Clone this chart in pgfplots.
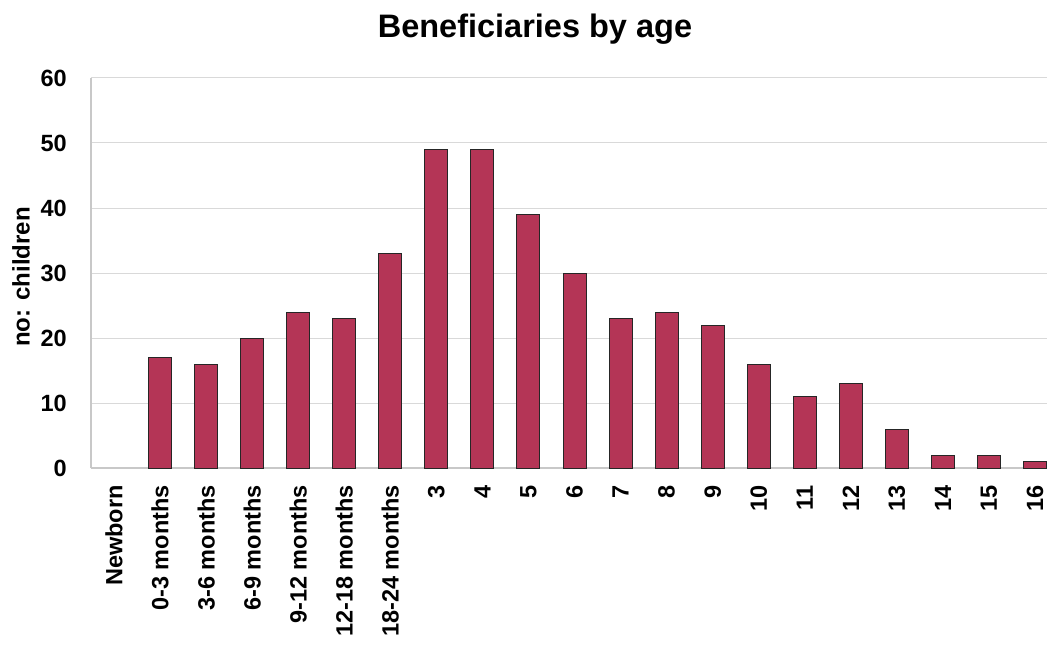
\documentclass[border=0pt]{standalone}
\usepackage{pgfplots}
\pgfplotsset{compat=1.18}
\usepackage{fontspec}
\setmainfont{Liberation Sans}
\definecolor{barred}{RGB}{180,53,86}
\definecolor{gridgray}{RGB}{217,217,217}
\definecolor{axisgray}{RGB}{200,200,200}
\begin{document}
\begin{tikzpicture}
\begin{axis}[
  at={(0pt,0pt)}, anchor=south west,
  scale only axis,
  width=956pt, height=390pt,
  ybar, bar width=23pt,
  xmin=-0.5, xmax=20.26,
  ymin=0, ymax=60,
  ytick={0,10,...,60},
  xtick={0,...,20},
  xticklabels={Newborn,0-3 months,3-6 months,6-9 months,9-12 months,12-18 months,18-24 months,3,4,5,6,7,8,9,10,11,12,13,14,15,16},
  major tick length=0pt,
  axis x line*=bottom, axis y line*=left,
  axis line style={axisgray, line width=1.2pt, -},
  ymajorgrids, grid style={gridgray, line width=1pt},
  /pgf/number format/assume math mode=true,
  tick label style={font=\fontsize{23.5}{26}\selectfont\bfseries, inner sep=0pt},
  yticklabel style={anchor=east, xshift=-24pt},
  xticklabel style={yshift=-17pt, rotate=90, anchor=east},
  ylabel={no: children},
  ylabel style={at={(axis description cs:0,0.49)}, anchor=center, yshift=70pt, font=\fontsize{24}{27}\selectfont\bfseries},
  title={Beneficiaries by age},
  title style={at={(axis description cs:0.4644,1)}, anchor=center, yshift=43pt, font=\fontsize{32.5}{36}\selectfont\bfseries},
]
% Newborn (x=0) is 0 children: no bar drawn
\addplot[fill=barred, draw=black!85, line width=1pt] coordinates {
  (1,17) (2,16) (3,20) (4,24) (5,23) (6,33) (7,49) (8,49) (9,39)
  (10,30) (11,23) (12,24) (13,22) (14,16) (15,11) (16,13) (17,6) (18,2) (19,2) (20,1)
};
\end{axis}
\pgfresetboundingbox
\path[use as bounding box] (-91pt,-182pt) rectangle (957pt,468pt);
\end{tikzpicture}
\end{document}
